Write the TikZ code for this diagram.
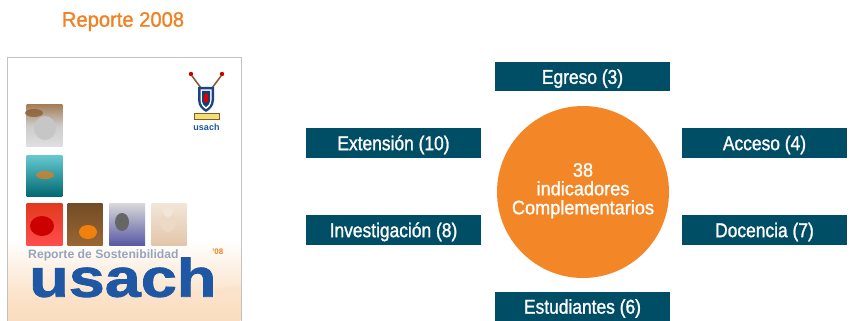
\documentclass[tikz,border=0pt]{standalone}
\usepackage{fontspec}
\setmainfont{Liberation Sans}
\newfontfamily\boxfont[FakeStretch=0.87,FakeBold=1.2]{Liberation Sans}
\newfontfamily\circfont[FakeStretch=0.93,FakeBold=1.2]{Liberation Sans}
\newfontfamily\repfont[FakeStretch=0.96,FakeBold=1.2]{Liberation Sans}
\newfontfamily\usachfont[FakeStretch=1.2,FakeBold=1.5]{Liberation Sans Bold}
\definecolor{teal}{RGB}{0,77,102}
\definecolor{circorange}{RGB}{243,134,38}
\definecolor{reporange}{RGB}{240,130,36}
\definecolor{usachblue}{RGB}{30,88,165}
\definecolor{subgray}{RGB}{150,165,190}
\definecolor{coverline}{RGB}{195,195,195}
\definecolor{peach}{RGB}{250,214,178}
\tikzset{
  catbox/.style={fill=teal, text=white, inner sep=0pt, minimum height=29.5pt,
    text height=14.3pt, text depth=0pt, font=\boxfont\fontsize{20}{24}\selectfont},
  circtext/.style={anchor=base, text=white, inner sep=0pt, font=\circfont\fontsize{19.5}{22}\selectfont},
}
\begin{document}
\begin{tikzpicture}[x=1pt,y=-1pt]
\useasboundingbox (0,0) rectangle (852,321);
\clip (0,0) rectangle (852,321);
\fill[white] (0,0) rectangle (852,321);

% title
\node[anchor=base, text=reporange, inner sep=0pt, font=\repfont\fontsize{21}{24}\selectfont] (title) at (123,26.7) {Reporte 2008};

% cover
\node[draw=coverline, line width=0.8pt, fill=white, anchor=north west, minimum width=233.4pt, minimum height=270pt, inner sep=0pt] (cover) at (7.3,56.7) {};
\shade[top color=white, bottom color=peach] (8,240) rectangle (240.3,321);
\fill[peach!70!white, opacity=0.6] (8,300) .. controls (80,292) and (160,300) .. (240.3,285) -- (240.3,321) -- (8,321) -- cycle;

% photos
\shade[top color=brown!60!gray, bottom color=gray!25, middle color=gray!40] (26.7,105) rectangle (62.3,146.7);
\fill[brown!70!black, opacity=0.7] (34,113) ellipse (9pt and 4pt);
\fill[gray!45] (45,128) ellipse (11pt and 12pt);
\shade[top color=teal!50!cyan!60!white, bottom color=teal!60!cyan!70!black] (26.7,155) rectangle (62.3,196.7);
\fill[brown!60!orange, opacity=0.8] (45,175) ellipse (9pt and 4pt);
\shade[top color=red!55!brown, bottom color=red!70!white] (26.7,203.3) rectangle (62.3,245);
\fill[red!80!black] (42,226) ellipse (12pt and 10pt);
\shade[top color=brown!60!black, bottom color=brown!80!black] (67.7,203.3) rectangle (102.7,245);
\fill[orange!80!brown] (88,232) ellipse (9pt and 7pt);
\shade[top color=gray!30, bottom color=gray!70!blue] (109.3,203.3) rectangle (145,245);
\fill[black!60] (122,222) ellipse (7pt and 9pt);
\shade[top color=brown!20!white, bottom color=brown!45!white] (151.7,203.3) rectangle (186.7,245);
\fill[brown!30!white] (168,222) ellipse (8pt and 10pt);
\fill[white!80!brown] (168,212) circle (5pt);

% cover texts
\node[anchor=base west, inner sep=0pt, text=subgray, font=\bfseries\fontsize{12.2}{14}\selectfont] (subtitle) at (28,258) {Reporte de Sostenibilidad};
\node[anchor=base west, inner sep=0pt, text=reporange, font=\bfseries\fontsize{8}{9}\selectfont] (year) at (212,254) {'08};
\node[anchor=base west, inner sep=0pt, text height=30pt, text=usachblue, font=\usachfont\fontsize{54}{60}\selectfont] (usach) at (29,296.7) {usach};

% logo
\draw[line width=1.5pt, brown!70!black] (192,76) -- (201,88);
\draw[line width=1.5pt, brown!70!black] (221,76) -- (212,88);
\fill[red!80!black] (191,74) circle (2.2pt);
\fill[red!80!black] (222,74) circle (2.2pt);
\fill[usachblue!80!black] (198,87) -- (214,87) -- (214,100) .. controls (214,107) and (209,110) .. (206,112) .. controls (203,110) and (198,107) .. (198,100) -- cycle;
\fill[white] (200.5,89.5) -- (211.5,89.5) -- (211.5,100) .. controls (211.5,105) and (208,108) .. (206,109) .. controls (204,108) and (200.5,105) .. (200.5,100) -- cycle;
\fill[usachblue!70!black] (202,91) -- (210,91) -- (210,100) .. controls (210,104) and (207.5,106) .. (206,107) .. controls (204.5,106) and (202,104) .. (202,100) -- cycle;
\fill[red!85!black] (206,98) ellipse (2.5pt and 5pt);
\draw[fill=brown!40!yellow!60!white, draw=brown!70!black, line width=0.6pt] (194,113) rectangle (219,119);
\node[anchor=base, inner sep=0pt, text=usachblue, font=\bfseries\fontsize{9}{10}\selectfont] (logotext) at (206.5,130) {usach};

% diagram
\node[circle, fill=circorange, minimum size=172pt, inner sep=0pt] (hub) at (583,192) {};
\node[circtext] (c1) at (583,176.7) {38};
\node[circtext] (c2) at (583,195.3) {indicadores};
\node[circtext] (c3) at (583,214.3) {Complementarios};

\node[catbox, minimum width=175pt] (egreso) at (582.5,76.7) {Egreso (3)};
\node[catbox, minimum width=175pt] (ext) at (393.5,143) {Extensión (10)};
\node[catbox, minimum width=175pt] (inv) at (393.5,230) {Investigación (8)};
\node[catbox, minimum width=165pt] (acc) at (764.5,143) {Acceso (4)};
\node[catbox, minimum width=165pt] (doc) at (764.5,230) {Docencia (7)};
\node[catbox, minimum width=175pt, minimum height=29pt] (est) at (582.5,306.5) {Estudiantes (6)};
\end{tikzpicture}
\end{document}
